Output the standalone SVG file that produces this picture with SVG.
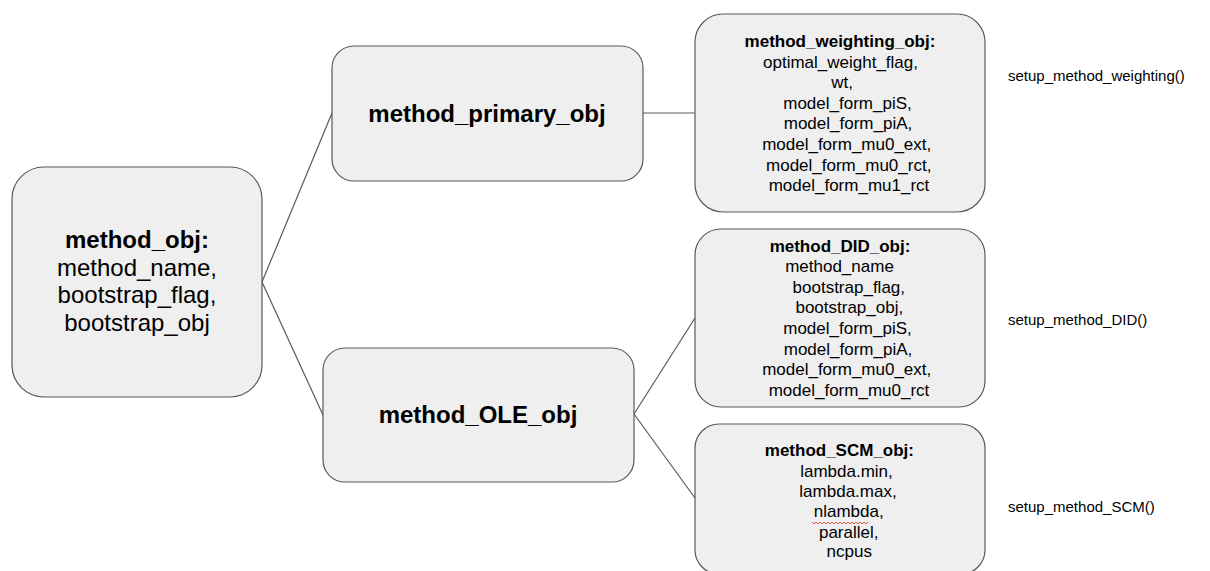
<svg xmlns="http://www.w3.org/2000/svg" width="1210" height="571" viewBox="0 0 1210 571">
  <style>
    .box { fill: #efefef; stroke: #595959; stroke-width: 1.2; }
    .edge { stroke: #595959; stroke-width: 1.2; fill: none; }
    .t { font-family: "Liberation Sans", Arial, sans-serif; fill: #000; text-anchor: middle; }
    .b { font-weight: bold; }
    .big { font-size: 24px; }
    .sm { font-size: 17px; }
    .fn { font-family: "Liberation Sans", Arial, sans-serif; font-size: 15px; fill: #000; }
  </style>

  <!-- connectors -->
  <g id="connectors">
    <line class="edge" x1="262" y1="282" x2="332" y2="113"/>
    <line class="edge" x1="262" y1="282" x2="323" y2="415"/>
    <line class="edge" x1="643" y1="113" x2="695" y2="113"/>
    <line class="edge" x1="634" y1="414" x2="695" y2="318"/>
    <line class="edge" x1="634" y1="414" x2="695" y2="498"/>
  </g>

  <g id="method_obj">
    <rect class="box" x="12" y="167" width="250" height="230" rx="32"/>
    <text class="t b big" x="137" y="248">method_obj:</text>
    <text class="t big" x="137" y="275.5">method_name,</text>
    <text class="t big" x="137" y="303">bootstrap_flag,</text>
    <text class="t big" x="137" y="330.5">bootstrap_obj</text>
  </g>

  <g id="method_primary_obj">
    <rect class="box" x="332" y="46" width="311" height="135" rx="22"/>
    <text class="t b big" x="487" y="122">method_primary_obj</text>
  </g>

  <g id="method_OLE_obj">
    <rect class="box" x="323" y="348" width="311" height="134" rx="22"/>
    <text class="t b big" x="478" y="423">method_OLE_obj</text>
  </g>

  <g id="method_weighting_obj">
    <rect class="box" x="695" y="14" width="290" height="198" rx="28"/>
    <text class="t b sm" x="840" y="47">method_weighting_obj:</text>
    <text class="t sm" x="840.5" y="67.6">optimal_weight_flag,</text>
    <text class="t sm" x="842" y="88.2">wt,</text>
    <text class="t sm" x="847.5" y="108.8">model_form_piS,</text>
    <text class="t sm" x="848" y="129.4">model_form_piA,</text>
    <text class="t sm" x="846.7" y="150">model_form_mu0_ext,</text>
    <text class="t sm" x="848.7" y="170.6">model_form_mu0_rct,</text>
    <text class="t sm" x="849" y="191.2">model_form_mu1_rct</text>
  </g>

  <g id="method_DID_obj">
    <rect class="box" x="695" y="229" width="290" height="178" rx="26"/>
    <text class="t b sm" x="840" y="251.7">method_DID_obj:</text>
    <text class="t sm" x="839.5" y="272.3">method_name</text>
    <text class="t sm" x="848.8" y="292.8">bootstrap_flag,</text>
    <text class="t sm" x="849.3" y="313.4">bootstrap_obj,</text>
    <text class="t sm" x="847.5" y="334">model_form_piS,</text>
    <text class="t sm" x="848" y="354.5">model_form_piA,</text>
    <text class="t sm" x="846.7" y="375.1">model_form_mu0_ext,</text>
    <text class="t sm" x="849" y="395.7">model_form_mu0_rct</text>
  </g>

  <g id="method_SCM_obj">
    <rect class="box" x="695" y="424" width="290" height="150" rx="24"/>
    <text class="t b sm" x="839.4" y="455.7">method_SCM_obj:</text>
    <text class="t sm" x="846.5" y="476.5">lambda.min,</text>
    <text class="t sm" x="848" y="497.3">lambda.max,</text>
    <text class="t sm" x="848.7" y="517.1">nlambda,</text>
    <path d="M812 522 l2 2 l2 -2 l2 2 l2 -2 l2 2 l2 -2 l2 2 l2 -2 l2 2 l2 -2 l2 2 l2 -2 l2 2 l2 -2 l2 2 l2 -2 l2 2 l2 -2 l2 2 l2 -2 l2 2 l2 -2 l2 2 l2 -2 l2 2 l2 -2 l2 2 l2 -2" fill="none" stroke="#e0463c" stroke-width="0.9"/>
    <text class="t sm" x="848.7" y="537.5">parallel,</text>
    <text class="t sm" x="849.3" y="557">ncpus</text>
  </g>

  <g id="labels">
    <text class="fn" x="1008" y="81">setup_method_weighting()</text>
    <text class="fn" x="1008" y="325">setup_method_DID()</text>
    <text class="fn" x="1008" y="512">setup_method_SCM()</text>
  </g>
</svg>
